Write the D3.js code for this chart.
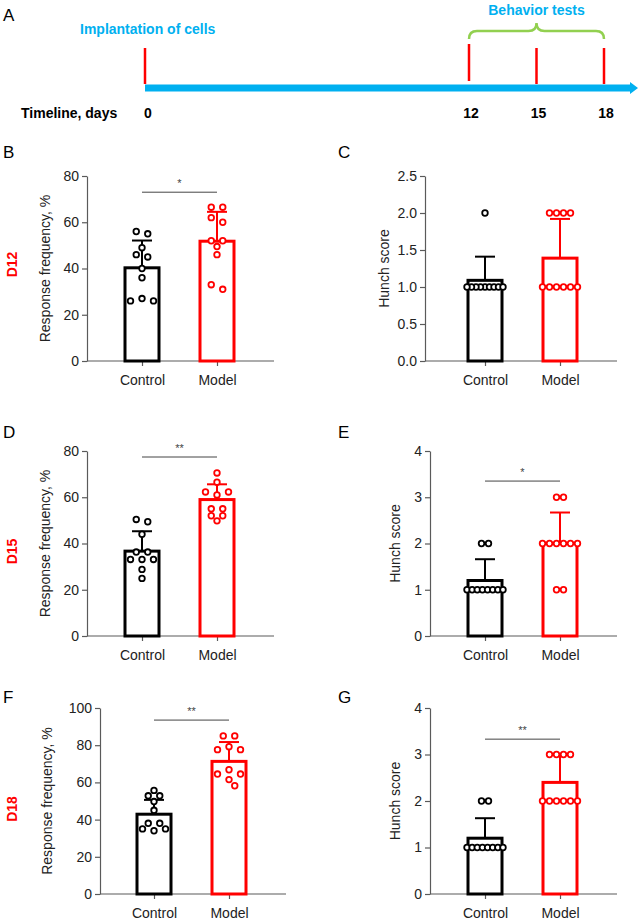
<!DOCTYPE html>
<html><head><meta charset="utf-8">
<script src="https://cdn.jsdelivr.net/npm/d3@7"></script>
<style>html,body{margin:0;padding:0;background:#fff}svg{display:block;font-family:"Liberation Sans",Arial,Helvetica,sans-serif}</style>
</head><body><svg id="c" width="639" height="920"></svg>
<script>
// ---------------- data ----------------
const groups = ["Control", "Model"];
const timelineDays = [0, 12, 15, 18];
const behaviorRange = [12, 18];
const timelineTitle = "Timeline, days";
const implantLabel = "Implantation of cells";
const behaviorLabel = "Behavior tests";

// D12
const freqD12Control = [56, 55, 49, 46, 45, 40, 36, 27, 26, 26];
const freqD12Model = [66.5, 66.5, 62, 60, 52, 52, 49.5, 46, 33, 31];
const freqD12Mean = [40.3, 51.8];
const freqD12Err = [11.8, 12.7];
const hunchD12Control = [2, 1, 1, 1, 1, 1, 1, 1, 1, 1];
const hunchD12Model = [2, 2, 2, 2, 1, 1, 1, 1, 1, 1];
const hunchD12Mean = [1.09, 1.39];
const hunchD12Err = [0.32, 0.53];
// D15
const freqD15Control = [50.4, 49.4, 44, 36.3, 36.3, 33.1, 33.1, 33.1, 28.8, 24.9];
const freqD15Model = [70.5, 66.5, 62.3, 62.3, 61, 55, 55, 52, 52, 49.8];
const freqD15Mean = [36.7, 59.0];
const freqD15Err = [8.6, 6.6];
const hunchD15Control = [2, 2, 1, 1, 1, 1, 1, 1, 1, 1];
const hunchD15Model = [3, 3, 2, 2, 2, 2, 2, 2, 1, 1];
const hunchD15Mean = [1.2, 2.0];
const hunchD15Err = [0.46, 0.67];
// D18
const freqD18Control = [55.7, 52.8, 52.8, 49.7, 45, 38, 38, 35, 35, 34];
const freqD18Model = [85, 85, 79.2, 77.6, 77.6, 66.8, 64.5, 64.5, 61.5, 58.2];
const freqD18Mean = [42.9, 71.3];
const freqD18Err = [7.7, 10.4];
const hunchD18Control = [2, 2, 1, 1, 1, 1, 1, 1, 1, 1];
const hunchD18Model = [3, 3, 3, 3, 2, 2, 2, 2, 2, 2];
const hunchD18Mean = [1.2, 2.4];
const hunchD18Err = [0.43, 0.6];

const dayLabels = ["D12", "D15", "D18"];
const freqTicks = [0, 20, 40, 60, 80];
const freqTicksD18 = [0, 20, 40, 60, 80, 100];
const hunchTicksD12 = [0, 0.5, 1, 1.5, 2, 2.5];
const hunchTicks = [0, 1, 2, 3, 4];
const sigLabels = ["*", "", "**", "*", "**", "**"];
const sigLevels = [73, null, 77.4, 3.35, 93.5, 3.33];
const freqTitle = "Response frequency, %";
const hunchTitle = "Hunch score";

// ---------------- drawing ----------------
const svg = d3.select("#c");
const RED = "#ff0000", CYAN = "#00b0f0", GREEN = "#92d050";
const colors = ["#000000", RED];
const AX = "#5a5a5a", TXT = "#222";

// Timeline (panel A)
const tl = d3.scaleLinear().domain([0, 12, 18]).range([145, 469, 604]);
svg.append("text").attr("x", 3).attr("y", 21).attr("font-size", 17).text("A");
svg.append("text").attr("x", 80).attr("y", 34).attr("font-size", 14).attr("font-weight", "bold")
  .attr("fill", CYAN).text(implantLabel);
svg.append("text").attr("x", tl(15)).attr("y", 15).attr("font-size", 14).attr("font-weight", "bold")
  .attr("text-anchor", "middle").attr("fill", CYAN).text(behaviorLabel);
// bracket
{
  const a = tl(behaviorRange[0]), b = tl(behaviorRange[1]), m = tl(15);
  const p = `M${a},39 Q${a},31 ${a + 8},31 L${m - 8},31 Q${m},31 ${m},23 Q${m},31 ${m + 8},31 L${b - 8},31 Q${b},31 ${b},39`;
  svg.append("path").attr("d", p).attr("fill", "none").attr("stroke", GREEN).attr("stroke-width", 2.5);
}
// arrow
{
  const x0 = tl(0), x1 = 630, y = 88;
  svg.append("path")
    .attr("d", `M${x0},${y - 3.5} L${x1},${y - 3.5} L${x1},${y - 6} L638,${y} L${x1},${y + 6} L${x1},${y + 3.5} L${x0},${y + 3.5} Z`)
    .attr("fill", CYAN);
}
svg.selectAll(".tlt").data(timelineDays).join("line")
  .attr("x1", d => tl(d)).attr("x2", d => tl(d))
  .attr("y1", d => d === 12 ? 44 : 48).attr("y2", d => d === 12 ? 81 : 84)
  .attr("stroke", RED).attr("stroke-width", 2.5);
svg.selectAll(".tll").data(timelineDays).join("text")
  .attr("x", d => tl(d) + (d === 0 ? 3 : 2)).attr("y", 118).attr("font-size", 14).attr("font-weight", "bold")
  .attr("text-anchor", "middle").text(d => d);
svg.append("text").attr("x", 21).attr("y", 118).attr("font-size", 14).attr("font-weight", "bold").text(timelineTitle);

// panels
const panels = [
  { letter: "B", vals: [freqD12Control, freqD12Model], mean: freqD12Mean, err: freqD12Err, ticks: freqTicks, fmt: d3.format("d"),
    kind: "freq", ax: 87, xEnd: 274, top: 176, bottom: 361, centers: [142, 217], title: freqTitle, titleX: 45, lx: 3, ly: 158 },
  { letter: "C", vals: [hunchD12Control, hunchD12Model], mean: hunchD12Mean, err: hunchD12Err, ticks: hunchTicksD12, fmt: d3.format(".1f"),
    kind: "hunch", ax: 425, xEnd: 617, top: 176, bottom: 361, centers: [485, 560], title: hunchTitle, titleX: 384, lx: 338, ly: 158 },
  { letter: "D", vals: [freqD15Control, freqD15Model], mean: freqD15Mean, err: freqD15Err, ticks: freqTicks, fmt: d3.format("d"),
    kind: "freq", ax: 87, xEnd: 274, top: 451, bottom: 636, centers: [142, 217], title: freqTitle, titleX: 45, lx: 3, ly: 438 },
  { letter: "E", vals: [hunchD15Control, hunchD15Model], mean: hunchD15Mean, err: hunchD15Err, ticks: hunchTicks, fmt: d3.format("d"),
    kind: "hunch", ax: 430, xEnd: 617, top: 451, bottom: 636, centers: [485, 560], title: hunchTitle, titleX: 395, lx: 338, ly: 438 },
  { letter: "F", vals: [freqD18Control, freqD18Model], mean: freqD18Mean, err: freqD18Err, ticks: freqTicksD18, fmt: d3.format("d"),
    kind: "freq", ax: 100, xEnd: 286, top: 708, bottom: 894, centers: [154, 229], title: freqTitle, titleX: 47, lx: 3, ly: 703 },
  { letter: "G", vals: [hunchD18Control, hunchD18Model], mean: hunchD18Mean, err: hunchD18Err, ticks: hunchTicks, fmt: d3.format("d"),
    kind: "hunch", ax: 430, xEnd: 617, top: 708, bottom: 894, centers: [485, 560], title: hunchTitle, titleX: 395, lx: 338, ly: 703 }
];

function layoutPoints(values, y, step, maxW, rowTol, minDist) {
  const sorted = values.map(v => v).sort((a, b) => b - a);
  const rows = [];
  sorted.forEach(v => {
    const r = rows[rows.length - 1];
    if (r && Math.abs(y(v) - y(r[0])) <= rowTol) r.push(v); else rows.push([v]);
  });
  const placed = [];
  const collides = (px, py) => placed.some(p => Math.hypot(p.dx - px, p.y - py) < minDist);
  rows.forEach(r => {
    const n = r.length;
    if (n === 1) {
      const cands = [0];
      for (let k = 1; k < 12; k++) { cands.push(k * step / 2, -k * step / 2); }
      const py = y(r[0]);
      const dx = cands.find(c => !collides(c, py));
      placed.push({ v: r[0], dx: dx === undefined ? 0 : dx, y: py });
    } else {
      const s = Math.min(step, maxW / (n - 1));
      const offs = d3.range(n).map(i => (i - (n - 1) / 2) * s);
      let members;
      if (n % 2 === 1) {
        const med = d3.median(r);
        members = r.slice().sort((a, b) => Math.abs(b - med) - Math.abs(a - med) || b - a);
        const ord = offs.slice().sort((a, b) => Math.abs(a) - Math.abs(b) || a - b);
        members.forEach((v, i) => placed.push({ v, dx: ord[i], y: y(v) }));
      } else {
        members = r.slice().sort((a, b) => b - a);
        members.forEach((v, i) => placed.push({ v, dx: offs[i], y: y(v) }));
      }
    }
  });
  return placed;
}

panels.forEach((P, pi) => {
  const g = svg.append("g");
  const ymax = P.ticks[P.ticks.length - 1];
  const y = d3.scaleLinear().domain([0, ymax]).range([P.bottom, P.top]);
  const x = d3.scalePoint().domain(groups).range(P.centers);

  // letter
  svg.append("text").attr("x", P.lx).attr("y", P.ly).attr("font-size", 17).attr("fill", "#000").text(P.letter);
  // day label
  if (pi % 2 === 0) {
    const cy = (P.top + P.bottom) / 2 + (pi === 0 ? -4 : 8);
    svg.append("text").attr("transform", `translate(17,${cy}) rotate(-90)`).attr("text-anchor", "middle")
      .attr("font-size", 14).attr("font-weight", "bold").attr("fill", RED).text(dayLabels[pi / 2]);
  }

  // y axis
  const ya = g.append("g").attr("transform", `translate(${P.ax},0)`)
    .call(d3.axisLeft(y).tickValues(P.ticks).tickFormat(P.fmt).tickSize(5).tickSizeOuter(0).tickPadding(3));
  ya.select(".domain").attr("stroke", AX).attr("stroke-width", 1.2);
  ya.selectAll(".tick line").attr("stroke", AX).attr("stroke-width", 1.2);
  ya.selectAll(".tick text").attr("font-size", 14).attr("fill", TXT).attr("font-family", "Liberation Sans, Arial, sans-serif");

  // x axis
  g.append("line").attr("x1", P.ax).attr("x2", P.xEnd).attr("y1", P.bottom).attr("y2", P.bottom)
    .attr("stroke", AX).attr("stroke-width", 1.2);
  const xa = g.append("g").attr("transform", `translate(0,${P.bottom})`)
    .call(d3.axisBottom(x).tickSize(5).tickPadding(9));
  xa.select(".domain").remove();
  xa.selectAll(".tick line").attr("stroke", AX).attr("stroke-width", 1.2);
  xa.selectAll(".tick text").attr("font-size", 14).attr("fill", TXT).attr("font-family", "Liberation Sans, Arial, sans-serif");

  // y title
  g.append("text").attr("transform", `translate(${P.titleX},${(P.top + P.bottom) / 2}) rotate(-90)`)
    .attr("text-anchor", "middle").attr("dy", "0.35em").attr("font-size", 14).attr("fill", TXT).text(P.title);

  // bars
  const bw = 34;
  g.selectAll(".bar").data(groups).join("rect")
    .attr("x", d => x(d) - bw / 2).attr("width", bw)
    .attr("y", (d, i) => y(P.mean[i])).attr("height", (d, i) => P.bottom - y(P.mean[i]))
    .attr("fill", "#fff").attr("stroke", (d, i) => colors[i]).attr("stroke-width", 3);

  // error bars
  g.selectAll(".eb").data(groups).join("line")
    .attr("x1", d => x(d)).attr("x2", d => x(d))
    .attr("y1", (d, i) => y(P.mean[i])).attr("y2", (d, i) => y(P.mean[i] + P.err[i]))
    .attr("stroke", (d, i) => colors[i]).attr("stroke-width", 2);
  g.selectAll(".ec").data(groups).join("line")
    .attr("x1", d => x(d) - 10).attr("x2", d => x(d) + 10)
    .attr("y1", (d, i) => y(P.mean[i] + P.err[i])).attr("y2", (d, i) => y(P.mean[i] + P.err[i]))
    .attr("stroke", (d, i) => colors[i]).attr("stroke-width", 2);

  // points
  groups.forEach((grp, i) => {
    const pts = P.kind === "freq" ? layoutPoints(P.vals[i], y, 11.5, 23, 5, 7)
                                  : layoutPoints(P.vals[i], y, 7, 36, 5, 6);
    g.selectAll(null).data(pts).join("circle")
      .attr("cx", d => x(grp) + d.dx).attr("cy", d => d.y).attr("r", 2.8)
      .attr("fill", "#fff").attr("stroke", colors[i]).attr("stroke-width", 1.8);
  });

  // significance
  if (sigLevels[pi] !== null) {
    const sy = y(sigLevels[pi]);
    g.append("line").attr("x1", x(groups[0])).attr("x2", x(groups[1])).attr("y1", sy).attr("y2", sy)
      .attr("stroke", "#444").attr("stroke-width", 1);
    g.append("text").attr("x", (x(groups[0]) + x(groups[1])) / 2).attr("y", sy - 5)
      .attr("text-anchor", "middle").attr("font-size", 11).attr("fill", "#444").text(sigLabels[pi]);
  }
});
</script>
</body></html>
